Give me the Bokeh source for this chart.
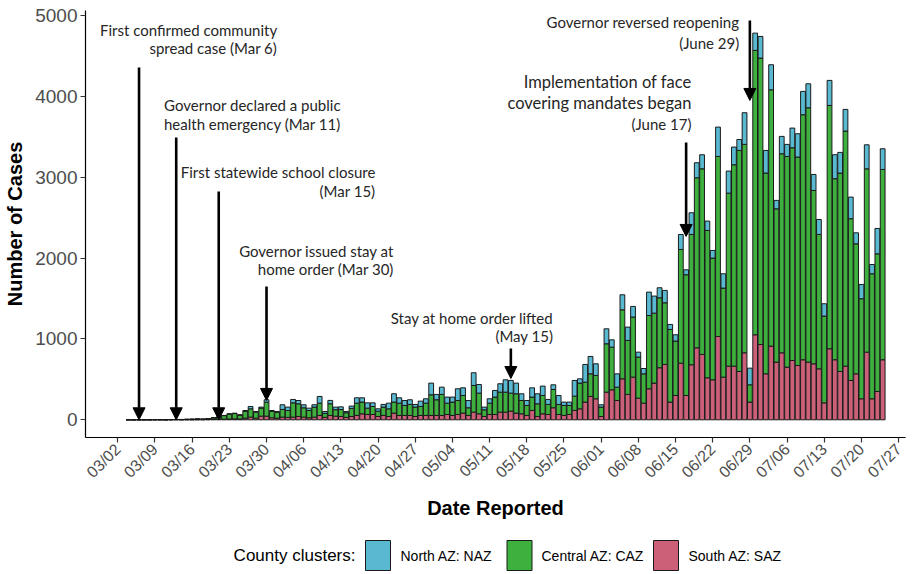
import pandas as pd
from math import pi
from bokeh.plotting import figure
from bokeh.layouts import column
from bokeh.models import (ColumnDataSource, Range1d, FixedTicker, DatetimeTickFormatter,
                          Arrow, NormalHead)
from bokeh.core.properties import value
from bokeh.embed import file_html
from bokeh.resources import INLINE

# ---------------- data ----------------
first_date = "2020-03-04"
series_names = ["South AZ: SAZ", "Central AZ: CAZ", "North AZ: NAZ"]
legend_title = "County clusters:"

south = [0, 0, 0, 0, 0, 0, 0, 0, 0, 1, 0, 1, 1, 2, 2, 3, 4,
         5, 8, 10, 12, 10, 20, 33, 20, 45, 45, 25, 20, 33, 30, 33, 41, 33, 25, 33, 54, 30, 54, 45, 41, 30, 41, 54,
         74, 66, 66, 41, 54, 41, 83, 54, 54, 54, 41, 54, 54, 54, 54, 54, 66, 54, 66, 83, 54, 95, 74, 41, 66, 66, 95, 95, 107,
         83, 74, 54, 116, 41, 74, 66, 149, 66, 54, 66, 116, 136, 219, 289, 260, 41, 342, 371,
         239, 507, 314, 528, 268, 206, 384, 454, 644, 685, 219, 301, 701, 301, 681, 891, 809, 520, 495, 1031, 528,
         664, 664, 598, 829, 219, 1052, 932, 569, 912, 714, 829, 652, 734, 672, 743, 714, 693, 631, 210, 879,
         743, 598, 664, 487, 569, 260, 837, 260, 351, 743]

central = [1, 0, 1, 1, 1, 2, 2, 1, 3, 3, 4, 5, 6, 8, 6, 12, 20,
           28, 44, 60, 65, 48, 85, 103, 75, 100, 173, 80, 73, 95, 85, 177, 157, 116, 90, 124, 152, 50, 145, 80, 86, 57, 100, 152,
           145, 78, 99, 66, 103, 95, 136, 152, 123, 136, 116, 111, 152, 255, 194, 260, 140, 165, 173, 218, 95, 330, 256, 83, 140, 215, 247, 247, 223,
           239, 165, 123, 165, 157, 227, 124, 226, 124, 123, 111, 177, 318, 247, 280, 289, 116, 599, 528,
           165, 854, 668, 743, 508, 363, 907, 866, 866, 763, 899, 673, 1407, 1494, 1613, 2104, 2297, 1823, 1506, 2228, 1102,
           2141, 2492, 2735, 2579, 214, 3519, 3544, 2484, 3172, 1897, 2463, 2607, 2632, 2579, 3032, 3147, 2145, 1663, 1073, 3011,
           2240, 2455, 2909, 2001, 1609, 1238, 2269, 1547, 1703, 2355]

north = [0, 0, 0, 0, 0, 0, 0, 0, 0, 0, 0, 0, 1, 1, 1, 1, 1,
         0, 2, 4, 5, 4, 10, 29, 8, 12, 30, 10, 10, 58, 42, 42, 41, 37, 29, 29, 83, 23, 41, 32, 33, 16, 29, 66,
         53, 66, 45, 29, 33, 70, 103, 66, 62, 58, 33, 66, 54, 145, 66, 90, 75, 62, 145, 95, 90, 157, 107, 33, 54, 82, 104, 153, 157,
         132, 83, 62, 115, 124, 116, 62, 58, 111, 42, 42, 194, 53, 219, 215, 144, 29, 185, 91,
         165, 186, 165, 132, 61, 66, 289, 211, 124, 153, 62, 78, 186, 61, 268, 186, 174, 116, 95, 363, 177,
         273, 219, 136, 392, 206, 214, 268, 280, 310, 104, 215, 149, 244, 289, 289, 297, 198, 185, 153, 310,
         297, 256, 268, 268, 136, 177, 297, 115, 314, 256]

tick_dates = pd.date_range("2020-03-02", "2020-07-27", freq="7D")
y_ticks = [0, 1000, 2000, 3000, 4000, 5000]

# annotations: text lines, text right-edge date, line y values, arrow date, arrow top, arrow tip
ann_text = [
    ["First confirmed community", "spread case (Mar 6)"],
    ["Governor declared a public", "health emergency (Mar 11)"],
    ["First statewide school closure", "(Mar 15)"],
    ["Governor issued stay at", "home order (Mar 30)"],
    ["Stay at home order lifted", "(May 15)"],
    ["Implementation of face", "covering mandates began", "(June 17)"],
    ["Governor reversed reopening", "(June 29)"],
]
ann_text_x = ["2020-04-01", "2020-04-13", "2020-04-19 12:00", "2020-04-23", "2020-05-23", "2020-06-18", "2020-06-27"]
ann_text_y = [[4818, 4596], [3890, 3655], [3061, 2826], [2089, 1866], [1254, 1031], [4175, 3915, 3655], [4917, 4669]]
ann_arrow_x = ["2020-03-06", "2020-03-13", "2020-03-21", "2020-03-30", "2020-05-15", "2020-06-17", "2020-06-29"]
ann_arrow_top = [4360, 3494, 2826, 1650, 883, 3432, 4942]
ann_arrow_tip = [0, 0, 0, 240, 511, 2269, 3952]

# ---------------- chart ----------------
DAY = 86400000.0
def ms(s):
    return pd.Timestamp(s).value / 1e6

dates = pd.date_range(first_date, periods=len(south), freq="D")
src = ColumnDataSource(dict(date=dates, south=south, central=central, north=north))

FL, FR = 85, 905   # frame left / right (page px)
base = ms("2020-03-02")
p = figure(width=918, height=530, x_axis_type="datetime",
           x_range=Range1d(base - 6.08 * DAY, base + 148.3 * DAY),
           y_range=Range1d(-219, 5065),
           output_backend="svg", toolbar_location=None,
           min_border_left=FL, min_border_right=918 - FR, min_border_top=10, min_border_bottom=93)
p.background_fill_color = "white"
p.outline_line_color = None
p.xgrid.grid_line_color = None
p.ygrid.grid_line_color = None

colors = ["#CC6079", "#3DB03D", "#58B9D1"]
rs = p.vbar_stack(["south", "central", "north"], x="date", width=0.9 * DAY, source=src,
                  fill_color=colors, line_color="#1a1a1a", line_width=1)

# axes
for ax in (p.xaxis[0], p.yaxis[0]):
    ax.axis_line_color = "black"
    ax.axis_line_width = 1.2
    ax.major_tick_line_color = "#333333"
    ax.major_tick_line_width = 1.2
    ax.major_tick_out = 5
    ax.major_tick_in = 0
    ax.minor_tick_line_color = None
    ax.major_label_text_color = "#4D4D4D"
    ax.major_label_text_font = "Liberation Sans"
    ax.axis_label_text_font = "Liberation Sans"
    ax.axis_label_text_font_style = "bold"
    ax.axis_label_text_color = "black"
    ax.axis_label_text_font_size = "20px"

p.yaxis.ticker = FixedTicker(ticks=y_ticks)
p.yaxis.major_label_text_font_size = "19px"
p.yaxis.axis_label = "Number of Cases"
p.yaxis.major_label_standoff = 3
p.yaxis.axis_label_standoff = 6

p.xaxis.ticker = FixedTicker(ticks=[ms(d) for d in tick_dates])
fmt = "%m/%d"
p.xaxis.formatter = DatetimeTickFormatter(days=fmt, months=fmt, hours=fmt, minutes=fmt,
                                          seconds=fmt, milliseconds=fmt, years=fmt)
p.xaxis.major_label_orientation = pi / 4
p.xaxis.major_label_text_font_size = "16px"
p.xaxis.major_label_standoff = 4
p.xaxis.axis_label = "Date Reported"
p.xaxis.axis_label_standoff = 7

# annotations
tx, ty, tt, ts = [], [], [], []
for lines, xr, ys in zip(ann_text, ann_text_x, ann_text_y):
    for i, (line, yv) in enumerate(zip(lines, ys)):
        tx.append(ms(xr)); ty.append(yv); tt.append(line)
        ts.append("16.5px" if (len(lines) == 3 and i < 2) else "15px")
tsrc = ColumnDataSource(dict(x=tx, y=ty, text=tt, size=ts))
p.text(x="x", y="y", text="text", source=tsrc, text_align="right", text_baseline="middle",
       text_font=value("Lato"), text_font_size="size", text_color="#262626")

for xa, y0, y1 in zip(ann_arrow_x, ann_arrow_top, ann_arrow_tip):
    p.add_layout(Arrow(x_start=ms(xa), y_start=y0, x_end=ms(xa), y_end=y1,
                       line_color="black", line_width=2.6,
                       end=NormalHead(size=12, fill_color="black", line_color="black", line_width=1)))

# ---------------- legend (separate strip, page-pixel coordinates) ----------------
LH = 44
leg = figure(width=918, height=LH, x_range=Range1d(FL, FR), y_range=Range1d(0, LH),
             output_backend="svg", toolbar_location=None,
             x_axis_location=None, y_axis_location=None,
             min_border_left=FL, min_border_right=918 - FR, min_border_top=0, min_border_bottom=0)
leg.outline_line_color = None
leg.xgrid.grid_line_color = None
leg.ygrid.grid_line_color = None

order = [2, 1, 0]
box_cx = [377.5, 519, 665.5]
lab_x = [400, 541, 688]
ly = 19
leg.rect(x=box_cx, y=[ly] * 3, width=25, height=30,
         fill_color=[colors[i] for i in order], line_color="#1a1a1a", line_width=1)
leg.text(x=lab_x, y=[ly] * 3, text=[series_names[i] for i in order],
         text_align="left", text_baseline="middle", text_font=value("Liberation Sans"),
         text_font_size="14px", text_color="black")
leg.text(x=[355], y=[ly], text=[legend_title], text_align="right", text_baseline="middle",
         text_font=value("Liberation Sans"), text_font_size="17px", text_color="black")

layout = column(p, leg, spacing=0)
open("out.html", "w").write(file_html(layout, INLINE))
